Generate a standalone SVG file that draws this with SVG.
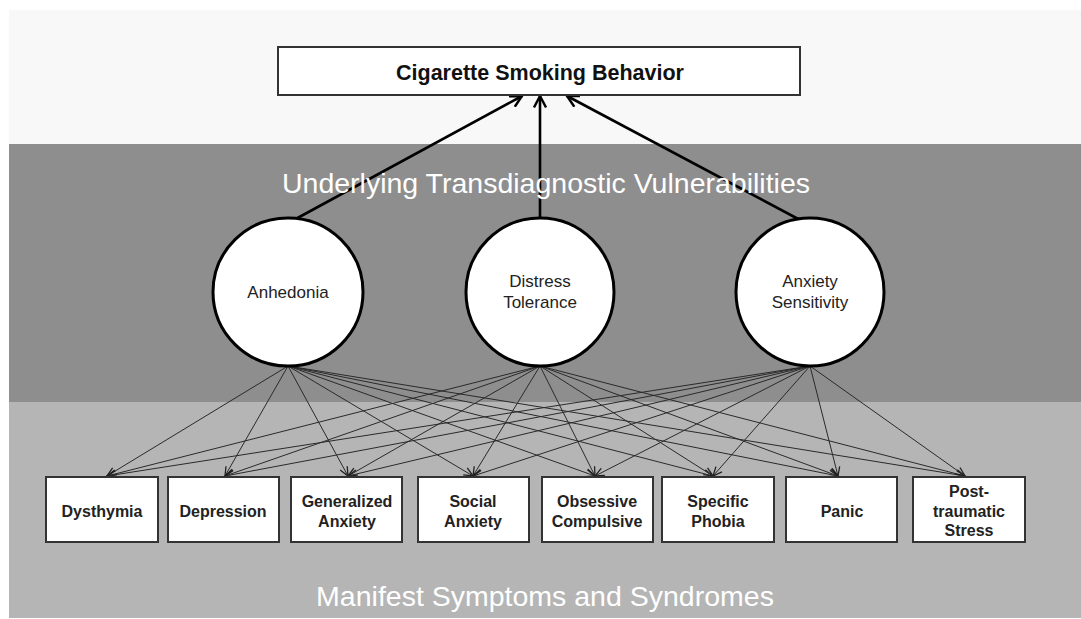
<svg xmlns="http://www.w3.org/2000/svg" width="1081" height="619" viewBox="0 0 1081 619">
<style>
.band-title{font-family:"Liberation Sans",Arial,sans-serif;font-size:28.5px;fill:#ffffff;text-anchor:middle}
.box{fill:#ffffff;stroke:#333333;stroke-width:2}
.circ{fill:#ffffff;stroke:#000000;stroke-width:3}
.lbl{font-family:"Liberation Sans",Arial,sans-serif;font-size:16px;font-weight:bold;fill:#222222;text-anchor:middle}
.clbl{font-family:"Liberation Sans",Arial,sans-serif;font-size:17px;fill:#222222;text-anchor:middle}
.top{font-family:"Liberation Sans",Arial,sans-serif;font-size:21.5px;font-weight:bold;fill:#111111;text-anchor:middle}
.thin{stroke:#2a2a2a;stroke-width:1;fill:none;marker-end:url(#ah)}
.thick{stroke:#000000;stroke-width:2.6;fill:none;marker-end:url(#ahb)}
</style>
<defs>
<marker id="ah" viewBox="0 0 10 10" refX="9.5" refY="5" markerWidth="10" markerHeight="10" markerUnits="userSpaceOnUse" orient="auto">
<path d="M0.5,1 L9.5,5 L0.5,9" fill="none" stroke="#222222" stroke-width="1.3"/>
</marker>
<marker id="ahb" viewBox="0 0 14 14" refX="12.5" refY="7" markerWidth="14" markerHeight="14" markerUnits="userSpaceOnUse" orient="auto">
<path d="M1,1 L12.5,7 L1,13" fill="none" stroke="#000000" stroke-width="2.4"/>
</marker>
</defs>
<g id="background">
<rect x="0" y="0" width="1081" height="619" fill="#ffffff"/>
<rect x="9" y="10" width="1072" height="134" fill="#f8f8f8"/>
<rect x="9" y="144" width="1072" height="258" fill="#8e8e8e"/>
<rect x="9" y="402" width="1072" height="216" fill="#b5b5b5"/>
</g>
<g id="connectors">
<line class="thick" x1="292" y1="221" x2="522" y2="96"/>
<line class="thick" x1="540" y1="219" x2="540" y2="96"/>
<line class="thick" x1="802" y1="221" x2="567" y2="96"/>
<g id="from-anhedonia">
<line class="thin" x1="288" y1="366" x2="107" y2="476"/>
<line class="thin" x1="288" y1="366" x2="225" y2="476"/>
<line class="thin" x1="288" y1="366" x2="348" y2="476"/>
<line class="thin" x1="288" y1="366" x2="473" y2="476"/>
<line class="thin" x1="288" y1="366" x2="595" y2="476"/>
<line class="thin" x1="288" y1="366" x2="713" y2="476"/>
<line class="thin" x1="288" y1="366" x2="838" y2="476"/>
<line class="thin" x1="288" y1="366" x2="965" y2="476"/>
</g>
<g id="from-distress">
<line class="thin" x1="540" y1="366" x2="107" y2="476"/>
<line class="thin" x1="540" y1="366" x2="225" y2="476"/>
<line class="thin" x1="540" y1="366" x2="348" y2="476"/>
<line class="thin" x1="540" y1="366" x2="473" y2="476"/>
<line class="thin" x1="540" y1="366" x2="595" y2="476"/>
<line class="thin" x1="540" y1="366" x2="713" y2="476"/>
<line class="thin" x1="540" y1="366" x2="838" y2="476"/>
<line class="thin" x1="540" y1="366" x2="965" y2="476"/>
</g>
<g id="from-anxiety">
<line class="thin" x1="810" y1="366" x2="107" y2="476"/>
<line class="thin" x1="810" y1="366" x2="225" y2="476"/>
<line class="thin" x1="810" y1="366" x2="348" y2="476"/>
<line class="thin" x1="810" y1="366" x2="473" y2="476"/>
<line class="thin" x1="810" y1="366" x2="595" y2="476"/>
<line class="thin" x1="810" y1="366" x2="713" y2="476"/>
<line class="thin" x1="810" y1="366" x2="838" y2="476"/>
<line class="thin" x1="810" y1="366" x2="965" y2="476"/>
</g>
</g>
<g id="band-titles">
<text class="band-title" x="546" y="193">Underlying Transdiagnostic Vulnerabilities</text>
<text class="band-title" x="545" y="606">Manifest Symptoms and Syndromes</text>
</g>
<g id="cigarette-smoking-behavior">
<rect class="box" x="278" y="47" width="522" height="48"/>
<text class="top" x="540" y="80">Cigarette Smoking Behavior</text>
</g>
<g id="anhedonia">
<ellipse class="circ" cx="288" cy="292" rx="75" ry="74"/>
<text class="clbl" x="288" y="298">Anhedonia</text>
</g>
<g id="distress-tolerance">
<ellipse class="circ" cx="540" cy="292" rx="74" ry="74"/>
<text class="clbl" x="540" y="287">Distress</text>
<text class="clbl" x="540" y="308">Tolerance</text>
</g>
<g id="anxiety-sensitivity">
<ellipse class="circ" cx="810" cy="292" rx="74" ry="74"/>
<text class="clbl" x="810" y="287">Anxiety</text>
<text class="clbl" x="810" y="308">Sensitivity</text>
</g>
<g id="dysthymia">
<rect class="box" x="46" y="477" width="112" height="65"/>
<text class="lbl" x="102" y="517">Dysthymia</text>
</g>
<g id="depression">
<rect class="box" x="168" y="477" width="111" height="65"/>
<text class="lbl" x="223" y="517">Depression</text>
</g>
<g id="generalized-anxiety">
<rect class="box" x="291" y="477" width="111" height="65"/>
<text class="lbl" x="347" y="507">Generalized</text>
<text class="lbl" x="347" y="527">Anxiety</text>
</g>
<g id="social-anxiety">
<rect class="box" x="418" y="477" width="111" height="65"/>
<text class="lbl" x="473" y="507">Social</text>
<text class="lbl" x="473" y="527">Anxiety</text>
</g>
<g id="obsessive-compulsive">
<rect class="box" x="542" y="477" width="111" height="65"/>
<text class="lbl" x="597" y="507">Obsessive</text>
<text class="lbl" x="597" y="527">Compulsive</text>
</g>
<g id="specific-phobia">
<rect class="box" x="662" y="477" width="112" height="65"/>
<text class="lbl" x="718" y="507">Specific</text>
<text class="lbl" x="718" y="527">Phobia</text>
</g>
<g id="panic">
<rect class="box" x="786" y="477" width="111" height="65"/>
<text class="lbl" x="842" y="517">Panic</text>
</g>
<g id="post-traumatic-stress">
<rect class="box" x="913" y="477" width="112" height="65"/>
<text class="lbl" x="969" y="497">Post-</text>
<text class="lbl" x="969" y="517">traumatic</text>
<text class="lbl" x="969" y="536">Stress</text>
</g>
</svg>
